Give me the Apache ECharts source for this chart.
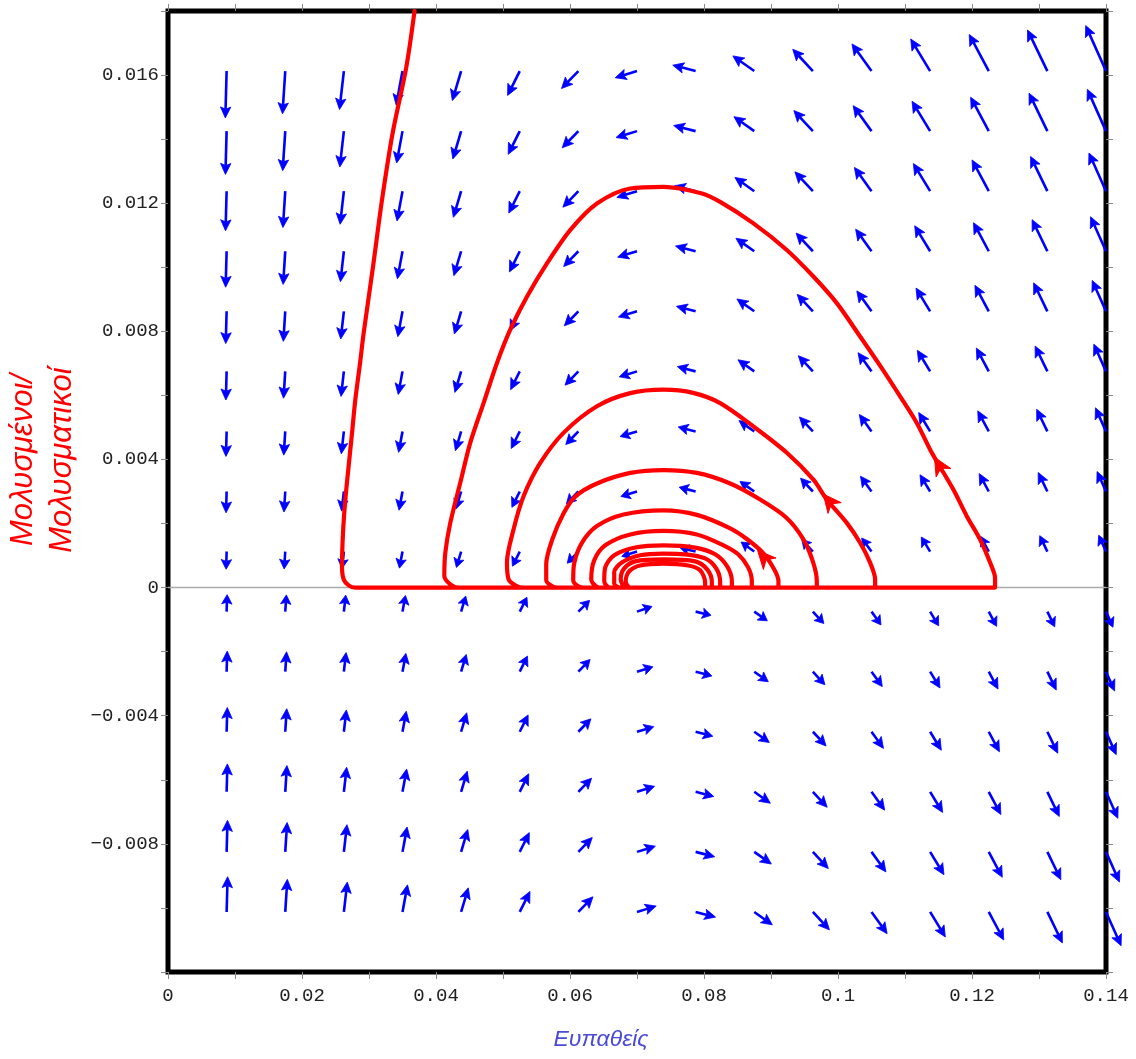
<!DOCTYPE html>
<html><head><meta charset="utf-8">
<script src="https://cdn.jsdelivr.net/npm/echarts@6/dist/echarts.min.js"></script>
<style>html,body{margin:0;padding:0;background:#fff}#c{width:1136px;height:1059px}</style>
</head><body><div id="c"></div>
<script>
// ---- axis ticks / labels ----
const xTickValues = [0, 0.02, 0.04, 0.06, 0.08, 0.1, 0.12, 0.14];
const xTickLabels = ["0", "0.02", "0.04", "0.06", "0.08", "0.1", "0.12", "0.14"];
const yTickValues = [-0.008, -0.004, 0, 0.004, 0.008, 0.012, 0.016];
const yTickLabels = ["−0.008", "−0.004", "0", "0.004", "0.008", "0.012", "0.016"];
const xTitle = "Ευπαθείς";
const yTitle = ["Μολυσμένοι/", "Μολυσματικοί"];

// ---- direction field: sample points (S, I) and rates (dS, dI) in units of 1e-4 ----
const fieldS = [0.00875, 0.0175, 0.02625, 0.035, 0.04375, 0.0525, 0.06125, 0.07, 0.07875, 0.0875, 0.09625, 0.105, 0.11375, 0.1225, 0.13125, 0.14];
const fieldI = [-0.010125, -0.00825, -0.006375, -0.0045, -0.002625, -0.00075, 0.001125, 0.003, 0.004875, 0.00675, 0.008625, 0.0105, 0.012375, 0.01425, 0.016125];
const fieldU = [
  [11.9, 23.8, 35.7, 47.6, 59.5, 71.4, 83.2, 95.1, 107.0, 118.9, 130.8, 142.7, 154.6, 166.5, 178.4, 190.3],
  [9.7, 19.4, 29.1, 38.8, 48.5, 58.1, 67.8, 77.5, 87.2, 96.9, 106.6, 116.3, 126.0, 135.7, 145.4, 155.0],
  [7.5, 15.0, 22.5, 29.9, 37.4, 44.9, 52.4, 59.9, 67.4, 74.9, 82.4, 89.8, 97.3, 104.8, 112.3, 119.8],
  [5.3, 10.6, 15.9, 21.1, 26.4, 31.7, 37.0, 42.3, 47.6, 52.9, 58.1, 63.4, 68.7, 74.0, 79.3, 84.6],
  [3.1, 6.2, 9.2, 12.3, 15.4, 18.5, 21.6, 24.7, 27.7, 30.8, 33.9, 37.0, 40.1, 43.2, 46.2, 49.3],
  [0.9, 1.8, 2.6, 3.5, 4.4, 5.3, 6.2, 7.0, 7.9, 8.8, 9.7, 10.6, 11.5, 12.3, 13.2, 14.1],
  [-1.3, -2.6, -4.0, -5.3, -6.6, -7.9, -9.2, -10.6, -11.9, -13.2, -14.5, -15.9, -17.2, -18.5, -19.8, -21.1],
  [-3.5, -7.0, -10.6, -14.1, -17.6, -21.1, -24.7, -28.2, -31.7, -35.2, -38.8, -42.3, -45.8, -49.3, -52.9, -56.4],
  [-5.7, -11.5, -17.2, -22.9, -28.6, -34.4, -40.1, -45.8, -51.5, -57.3, -63.0, -68.7, -74.4, -80.2, -85.9, -91.6],
  [-7.9, -15.9, -23.8, -31.7, -39.6, -47.6, -55.5, -63.4, -71.4, -79.3, -87.2, -95.1, -103.1, -111.0, -118.9, -126.8],
  [-10.1, -20.3, -30.4, -40.5, -50.7, -60.8, -70.9, -81.0, -91.2, -101.3, -111.4, -121.6, -131.7, -141.8, -152.0, -162.1],
  [-12.3, -24.7, -37.0, -49.3, -61.7, -74.0, -86.3, -98.7, -111.0, -123.3, -135.7, -148.0, -160.3, -172.6, -185.0, -197.3],
  [-14.5, -29.1, -43.6, -58.1, -72.7, -87.2, -101.7, -116.3, -130.8, -145.3, -159.9, -174.4, -188.9, -203.5, -218.0, -232.5],
  [-16.7, -33.5, -50.2, -66.9, -83.7, -100.4, -117.2, -133.9, -150.6, -167.4, -184.1, -200.8, -217.6, -234.3, -251.1, -267.8],
  [-18.9, -37.9, -56.8, -75.8, -94.7, -113.6, -132.6, -151.5, -170.5, -189.4, -208.3, -227.3, -246.2, -265.1, -284.1, -303.0]
];
const fieldV = [
  [89.4, 77.5, 65.6, 53.7, 41.8, 29.9, 18.0, 6.1, -5.8, -17.7, -29.6, -41.5, -53.3, -65.2, -77.1, -89.0],
  [72.8, 63.1, 53.4, 43.7, 34.0, 24.4, 14.7, 5.0, -4.7, -14.4, -24.1, -33.8, -43.5, -53.2, -62.9, -72.5],
  [56.3, 48.8, 41.3, 33.8, 26.3, 18.8, 11.3, 3.9, -3.6, -11.1, -18.6, -26.1, -33.6, -41.1, -48.6, -56.0],
  [39.7, 34.4, 29.1, 23.9, 18.6, 13.3, 8.0, 2.7, -2.6, -7.9, -13.1, -18.4, -23.7, -29.0, -34.3, -39.6],
  [23.2, 20.1, 17.0, 13.9, 10.8, 7.8, 4.7, 1.6, -1.5, -4.6, -7.7, -10.7, -13.8, -16.9, -20.0, -23.1],
  [6.6, 5.7, 4.9, 4.0, 3.1, 2.2, 1.3, 0.5, -0.4, -1.3, -2.2, -3.1, -4.0, -4.8, -5.7, -6.6],
  [-9.9, -8.6, -7.3, -6.0, -4.6, -3.3, -2.0, -0.7, 0.6, 2.0, 3.3, 4.6, 5.9, 7.2, 8.6, 9.9],
  [-26.5, -23.0, -19.4, -15.9, -12.4, -8.9, -5.3, -1.8, 1.7, 5.2, 8.8, 12.3, 15.8, 19.3, 22.9, 26.4],
  [-43.0, -37.3, -31.6, -25.8, -20.1, -14.4, -8.7, -2.9, 2.8, 8.5, 14.2, 20.0, 25.7, 31.4, 37.1, 42.9],
  [-59.6, -51.6, -43.7, -35.8, -27.9, -19.9, -12.0, -4.1, 3.9, 11.8, 19.7, 27.6, 35.6, 43.5, 51.4, 59.3],
  [-76.1, -66.0, -55.9, -45.7, -35.6, -25.5, -15.3, -5.2, 4.9, 15.1, 25.2, 35.3, 45.4, 55.6, 65.7, 75.8],
  [-92.7, -80.3, -68.0, -55.7, -43.3, -31.0, -18.7, -6.3, 6.0, 18.3, 30.7, 43.0, 55.3, 67.6, 80.0, 92.3],
  [-109.2, -94.7, -80.1, -65.6, -51.1, -36.5, -22.0, -7.5, 7.1, 21.6, 36.1, 50.7, 65.2, 79.7, 94.3, 108.8],
  [-125.8, -109.0, -92.3, -75.6, -58.8, -42.1, -25.3, -8.6, 8.1, 24.9, 41.6, 58.3, 75.1, 91.8, 108.6, 125.3],
  [-142.3, -123.4, -104.4, -85.5, -66.6, -47.6, -28.7, -9.7, 9.2, 28.1, 47.1, 66.0, 85.0, 103.9, 122.8, 141.8]
];

// ---- solution curve (S, I) ----
const trajS = [
  0.0368, 0.03557, 0.03352, 0.03194, 0.03060, 0.02920, 0.02860, 0.02796, 0.02747, 0.02696, 0.02647, 0.02612, 0.02597, 0.02621, 0.02696, 0.02796,
  0.12344, 0.12344, 0.12270, 0.12121, 0.11922, 0.11722, 0.11474, 0.11374, 0.11176, 0.10927, 0.10628, 0.10330, 0.09982, 0.09633, 0.09236, 0.08738, 0.08241, 0.07957, 0.07395, 0.06899, 0.06402, 0.06003, 0.05656, 0.05357, 0.05108, 0.04910, 0.04710, 0.04511, 0.04362, 0.04213, 0.04139, 0.04124, 0.04213, 0.04332,
  0.10554, 0.10554, 0.10479, 0.10330, 0.10131, 0.09833, 0.09633, 0.09236, 0.08738, 0.08241, 0.07838, 0.07395, 0.06899, 0.06402, 0.05903, 0.05556, 0.05307, 0.05158, 0.05059, 0.05083, 0.05183, 0.05287,
  0.09684, 0.09684, 0.09629, 0.09479, 0.09226, 0.08838, 0.08391, 0.07894, 0.07395, 0.06899, 0.06402, 0.06078, 0.05903, 0.05735, 0.05645, 0.05645, 0.05735, 0.05824,
  0.09111, 0.09111, 0.09047, 0.08887, 0.08644, 0.08391, 0.07894, 0.07395, 0.06799, 0.06402, 0.06182, 0.06063, 0.06048, 0.06123, 0.06212,
  0.08714, 0.08714, 0.08659, 0.08510, 0.08291, 0.07894, 0.07395, 0.06899, 0.06526, 0.06361, 0.06317, 0.06391, 0.06481,
  0.08416, 0.08416, 0.08346, 0.08167, 0.07868, 0.07395, 0.06973, 0.06660, 0.06526, 0.06511, 0.06600,
  0.08241, 0.08241, 0.08182, 0.08018, 0.07719, 0.07395, 0.07048, 0.06779, 0.06660, 0.06660, 0.06749,
  0.08117, 0.08117, 0.08047, 0.07868, 0.07395, 0.06973, 0.06809, 0.06757, 0.06839,
  0.08017, 0.08017, 0.07943, 0.07764, 0.07395, 0.07048, 0.06884, 0.06831, 0.06899, 0.0750
];
const trajI = [
  0.0180, 0.01625, 0.01418, 0.01210, 0.01002, 0.00794, 0.00690, 0.00587, 0.00483, 0.00379, 0.00275, 0.00171, 0.00067, 0.00026, 0.00007, 0,
  0, 0.00030, 0.00078, 0.00150, 0.00223, 0.00306, 0.00394, 0.00431, 0.00514, 0.00597, 0.00693, 0.00784, 0.00888, 0.00971, 0.01054, 0.01137, 0.01204, 0.01231, 0.01251, 0.01246, 0.01199, 0.01116, 0.01012, 0.00908, 0.00805, 0.00701, 0.00576, 0.00452, 0.00327, 0.00202, 0.00109, 0.00036, 0.00010, 0,
  0, 0.00025, 0.00078, 0.00140, 0.00202, 0.00275, 0.00337, 0.00421, 0.00503, 0.00576, 0.00608, 0.00618, 0.00607, 0.00566, 0.00483, 0.00389, 0.00285, 0.00182, 0.00078, 0.00026, 0.00007, 0,
  0, 0.00020, 0.00079, 0.00152, 0.00219, 0.00275, 0.00325, 0.00358, 0.00367, 0.00358, 0.00325, 0.00284, 0.00231, 0.00150, 0.00073, 0.00023, 0.00004, 0,
  0, 0.00020, 0.00057, 0.00107, 0.00151, 0.00185, 0.00227, 0.00241, 0.00228, 0.00192, 0.00141, 0.00076, 0.00023, 0.00004, 0,
  0, 0.00020, 0.00063, 0.00104, 0.00132, 0.00166, 0.00177, 0.00166, 0.00132, 0.00085, 0.00026, 0.00004, 0,
  0, 0.00020, 0.00066, 0.00104, 0.00125, 0.00132, 0.00125, 0.00101, 0.00063, 0.00020, 0,
  0, 0.00018, 0.00060, 0.00091, 0.00104, 0.00106, 0.00101, 0.00079, 0.00048, 0.00013, 0,
  0, 0.00018, 0.00057, 0.00082, 0.00088, 0.00082, 0.00060, 0.00026, 0,
  0, 0.00016, 0.00054, 0.00069, 0.00075, 0.00069, 0.00051, 0.00020, 0, 0
];
// arrowheads on the curve: head point and a point behind it on the curve
const markHeadS = [0.1144, 0.0978, 0.0880];
const markHeadI = [0.00407, 0.00292, 0.00116];
const markBackS = [0.1172, 0.10131, 0.0900];
const markBackI = [0.00306, 0.00202, 0.00070];

const X_MIN = 0, X_MAX = 0.14, Y_MIN = -0.012, Y_MAX = 0.018;

// ---- build series data ----
const fieldData = [];
for (let j = 0; j < fieldI.length; j++)
  for (let k = 0; k < fieldS.length; k++)
    fieldData.push([fieldS[k], fieldI[j], fieldU[j][k], fieldV[j][k]]);
const trajData = trajS.map((s, n) => [s, trajI[n]]);
const markData = markHeadS.map((s, n) => [s, markHeadI[n], markBackS[n], markBackI[n]]);

function labelFor(vals, labels) {
  return function (v) {
    for (let n = 0; n < vals.length; n++) if (Math.abs(v - vals[n]) < 1e-9) return labels[n];
    return '';
  };
}

function renderFieldArrow(params, api) {
  const s = api.value(0), i = api.value(1), u = api.value(2) * 1e-4, v = api.value(3) * 1e-4;
  const p = api.coord([s, i]);
  const q = api.coord([s + u, i + v]);
  const dx = q[0] - p[0], dy = q[1] - p[1];
  const m = Math.hypot(dx, dy) || 1e-9;
  const L = 15.5 + 0.0689 * m;
  const ux = dx / m, uy = dy / m, nx = -uy, ny = ux;
  const tip = [p[0] + ux * L, p[1] + uy * L];
  const hl = Math.min(11, L * 0.55), hw = 5.2;
  const bx = tip[0] - ux * hl, by = tip[1] - uy * hl;
  const notch = [tip[0] - ux * hl * 0.8, tip[1] - uy * hl * 0.8];
  return {
    type: 'group', children: [
      { type: 'line', shape: { x1: p[0], y1: p[1], x2: notch[0], y2: notch[1] }, style: { stroke: '#0000ff', lineWidth: 2.6 } },
      { type: 'polygon', shape: { points: [tip, [bx + nx * hw, by + ny * hw], notch, [bx - nx * hw, by - ny * hw]] }, style: { fill: '#0000ff', stroke: '#0000ff', lineWidth: 0.8 } }
    ]
  };
}

function renderCurveArrow(params, api) {
  const h = api.coord([api.value(0), api.value(1)]);
  const b = api.coord([api.value(2), api.value(3)]);
  const dx = h[0] - b[0], dy = h[1] - b[1];
  const m = Math.hypot(dx, dy) || 1e-9;
  const ux = dx / m, uy = dy / m, nx = -uy, ny = ux;
  const hl = 18, hw = 8.5;
  const bx = h[0] - ux * hl, by = h[1] - uy * hl;
  const notch = [h[0] - ux * hl * 0.7, h[1] - uy * hl * 0.7];
  return {
    type: 'polygon',
    shape: { points: [h, [bx + nx * hw, by + ny * hw], notch, [bx - nx * hw, by - ny * hw]] },
    style: { fill: '#ff0000', stroke: '#ff0000', lineWidth: 1 }
  };
}

const tickStyle = { show: true, length: 7, lineStyle: { color: '#888', width: 1 } };
const minorTickStyle = { show: true, splitNumber: 2, length: 7, lineStyle: { color: '#888', width: 1 } };
const monoFont = '"Liberation Mono", "DejaVu Sans Mono", monospace';

const chart = echarts.init(document.getElementById('c'), null, { renderer: 'canvas' });
chart.setOption({
  animation: false,
  backgroundColor: '#fff',
  grid: { left: 168, right: 30, top: 11, bottom: 87, show: true, borderColor: '#000', borderWidth: 5, backgroundColor: 'transparent' },
  xAxis: [
    {
      type: 'value', min: X_MIN, max: X_MAX, interval: 0.02, position: 'bottom',
      axisLine: { show: false, onZero: false }, splitLine: { show: false },
      axisTick: tickStyle, minorTick: minorTickStyle,
      axisLabel: { formatter: labelFor(xTickValues, xTickLabels), fontFamily: monoFont, fontSize: 19, color: '#222', margin: 14 }
    },
    {
      type: 'value', min: X_MIN, max: X_MAX, interval: 0.01, position: 'top',
      axisLine: { show: false, onZero: false }, splitLine: { show: false }, axisLabel: { show: false },
      axisTick: tickStyle
    }
  ],
  yAxis: [
    {
      type: 'value', min: Y_MIN, max: Y_MAX, interval: 0.004, position: 'left',
      axisLine: { show: false, onZero: false }, splitLine: { show: false },
      axisTick: tickStyle, minorTick: minorTickStyle,
      axisLabel: { formatter: labelFor(yTickValues, yTickLabels), fontFamily: monoFont, fontSize: 19, color: '#222', margin: 9 }
    },
    {
      type: 'value', min: Y_MIN, max: Y_MAX, interval: 0.002, position: 'right',
      axisLine: { show: false, onZero: false }, splitLine: { show: false }, axisLabel: { show: false },
      axisTick: tickStyle
    }
  ],
  series: [
    {
      type: 'line', data: [[X_MIN, 0], [X_MAX, 0]], showSymbol: false, silent: true, z: 1,
      lineStyle: { color: '#aaaaaa', width: 1.5 }
    },
    {
      type: 'custom', data: fieldData, renderItem: renderFieldArrow, z: 2, silent: true, clip: false,
      encode: { x: 0, y: 1 }
    },
    {
      type: 'line', data: trajData, showSymbol: false, silent: true, z: 3, smooth: 0.3,
      lineStyle: { color: '#ff0000', width: 4.2, cap: 'round', join: 'round' }
    },
    {
      type: 'custom', data: markData, renderItem: renderCurveArrow, z: 4, silent: true, clip: false,
      encode: { x: 0, y: 1 }
    }
  ],
  graphic: [
    {
      type: 'text', x: 601, y: 1040, z: 10,
      style: { text: xTitle, fill: '#4a4ad6', font: 'italic 23px "Liberation Sans", Arial, sans-serif', textAlign: 'center', textVerticalAlign: 'middle', align: 'center', verticalAlign: 'middle' }
    },
    {
      type: 'text', x: 43, y: 460, rotation: Math.PI / 2, z: 10,
      style: { text: yTitle.join('\n'), fill: '#ff0000', font: 'italic 31px "Liberation Sans", Arial, sans-serif', lineHeight: 39, textAlign: 'center', textVerticalAlign: 'middle', align: 'center', verticalAlign: 'middle' }
    }
  ]
});
</script>
</body></html>
